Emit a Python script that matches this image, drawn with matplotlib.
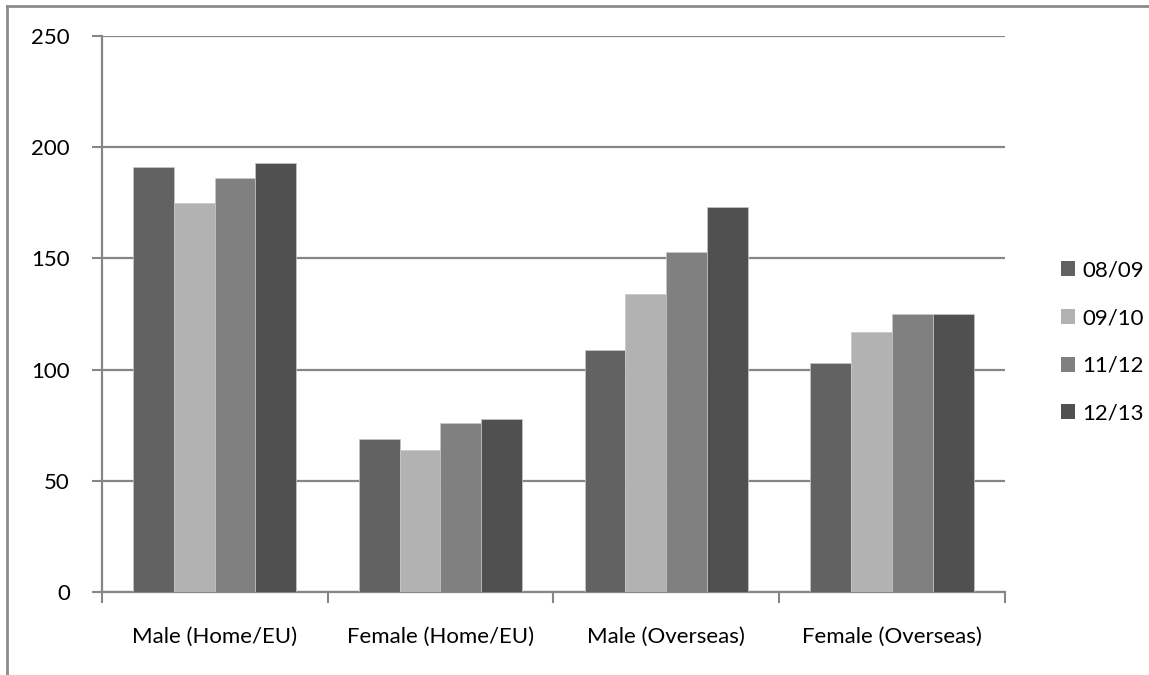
import numpy as np
import matplotlib.pyplot as plt
from matplotlib.lines import Line2D
from matplotlib.patches import Patch

categories = ['Male (Home/EU)', 'Female (Home/EU)', 'Male (Overseas)', 'Female (Overseas)']
years = ['08/09', '09/10', '11/12', '12/13']
v_0809 = [191, 69, 109, 103]
v_0910 = [175, 64, 134, 117]
v_1112 = [186, 76, 153, 125]
v_1213 = [193, 78, 173, 125]
colours = ['#626262', '#b2b2b2', '#808080', '#505050']

plt.rcParams['font.family'] = ['Lato', 'DejaVu Sans']
grey = '#868686'

fig = plt.figure(figsize=(11.49, 6.75), dpi=100)
ax = fig.add_axes([101.7 / 1149, 1 - 592 / 675, (1005 - 101.7) / 1149, (592 - 36) / 675])

x = np.arange(len(categories))
w = 0.181
series = [v_0809, v_0910, v_1112, v_1213]
for i, (vals, col) in enumerate(zip(series, colours)):
    ax.bar(x + (i - 1.5) * w, vals, w, color=col, edgecolor='#c8c8c8', linewidth=0.5,
           label=years[i], zorder=3)

ax.set_xlim(-0.5, 3.5)
ax.set_ylim(0, 250)
ax.set_yticks(range(0, 251, 50))
ax.yaxis.grid(True, color=grey, linewidth=1.6, zorder=0)
ax.set_axisbelow(True)

for s in ['top', 'right']:
    ax.spines[s].set_visible(False)
for s in ['left', 'bottom']:
    ax.spines[s].set_color(grey)
    ax.spines[s].set_linewidth(1.6)

ax.set_xticks(x)
ax.set_xticklabels(categories, fontsize=16)
ax.tick_params(axis='x', length=0, pad=25)
ax.set_xticks(np.arange(-0.5, 4, 1), minor=True)
ax.tick_params(axis='x', which='minor', length=8, width=1.5, color=grey)
ax.tick_params(axis='y', length=7, width=1.5, color=grey, labelsize=16, pad=16)

handles = [Patch(facecolor=c, label=y) for c, y in zip(colours, years)]
fig.legend(handles=handles, loc='center left', bbox_to_anchor=(1041 / 1149, 1 - 342 / 675),
           frameon=False, fontsize=16, handlelength=0.65, handleheight=0.65,
           handletextpad=0.3, labelspacing=1.25)

# outer frame, only left and top edges
fig.add_artist(Line2D([7 / 1149, 7 / 1149], [0, 1 - 6 / 675], color='#8c8c8c', linewidth=2,
                      transform=fig.transFigure))
fig.add_artist(Line2D([7 / 1149, 1], [1 - 6 / 675, 1 - 6 / 675], color='#8c8c8c', linewidth=2,
                      transform=fig.transFigure))

fig.savefig('out.png', dpi=100)
